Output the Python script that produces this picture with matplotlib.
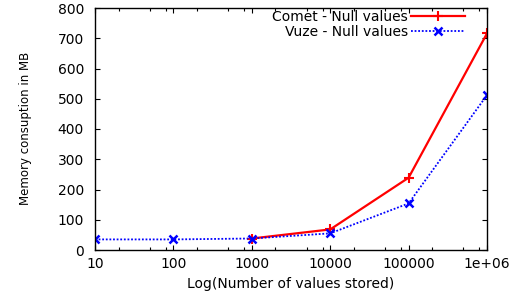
import matplotlib
matplotlib.use("Agg")
import matplotlib.pyplot as plt
from matplotlib.ticker import FixedLocator, FixedFormatter, LogLocator, NullFormatter

plt.rcParams['font.family'] = ['DejaVu Sans']

comet_x = [1000, 10000, 100000, 1000000]
comet_y = [38, 68, 239, 716]
vuze_x = [10, 100, 1000, 10000, 100000, 1000000]
vuze_y = [35, 35, 38, 55, 154, 512]
xticks = [10, 100, 1000, 10000, 100000, 1000000]
xtick_labels = ["10", "100", "1000", "10000", "100000", "1e+06"]
yticks = [0, 100, 200, 300, 400, 500, 600, 700, 800]

fig = plt.figure(figsize=(5.2, 2.96), dpi=100)
ax = fig.add_axes([95/520, 46/296, (487-95)/520, (250-8)/296])

ax.plot(comet_x, comet_y, color='#ff0000', lw=1.6, marker='+', ms=7, mew=1.5,
        label='Comet - Null values')
ax.plot(vuze_x, vuze_y, color='#0000ff', lw=1.3, ls=(0, (1, 1)), marker='x', ms=6, mew=1.8,
        label='Vuze - Null values')

ax.set_xscale('log')
ax.set_xlim(10, 1000000)
ax.set_ylim(0, 800)
ax.xaxis.set_major_locator(FixedLocator(xticks))
ax.xaxis.set_major_formatter(FixedFormatter(xtick_labels))
ax.xaxis.set_minor_locator(LogLocator(base=10, subs=(2, 5, 8)))
ax.xaxis.set_minor_formatter(NullFormatter())
ax.set_yticks(yticks)

ax.tick_params(which='both', direction='in', top=True, right=True, labelsize=10, width=0.8)
ax.tick_params(which='major', length=3.5)
ax.tick_params(which='minor', length=2)
ax.tick_params(axis='x', pad=5)
ax.tick_params(axis='y', pad=8)
for s in ax.spines.values():
    s.set_linewidth(1.0)

ax.set_xlabel('Log(Number of values stored)', fontsize=10)
ax.xaxis.set_label_coords(0.5, -0.112)
ax.xaxis.label.set_va('top')
ax.set_ylabel('Memory consuption in MB', fontsize=8.5)
ax.yaxis.set_label_coords(-0.161, 0.502)

leg = ax.legend(loc='upper right', frameon=False, markerfirst=False, fontsize=10,
                handlelength=3.9, borderaxespad=0, labelspacing=0.05, handletextpad=0.2,
                borderpad=0, bbox_to_anchor=(0.944, 0.992))

fig.savefig('out.png', dpi=100)
